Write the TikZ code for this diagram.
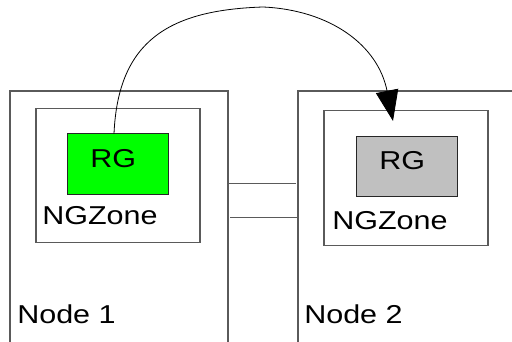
\documentclass[tikz,border=0pt]{standalone}
\usepackage{fontspec}
\setmainfont{Liberation Sans}[FakeStretch=1.18]
\usetikzlibrary{arrows.meta,calc}
\definecolor{rggreen}{RGB}{0,255,0}
\definecolor{rggrey}{RGB}{192,192,192}
\definecolor{boxline}{RGB}{90,90,90}

\begin{document}
\begin{tikzpicture}[x=0.75pt,y=-0.75pt,
        box/.style={rectangle,draw=boxline,line width=0.8pt,inner sep=0pt,outer sep=0pt},
        rgbox/.style={box,draw=black!85,minimum width=75.6pt,minimum height=45.5pt},
        zonebox/.style={box,minimum width=123pt,minimum height=101pt},
        lbl/.style={anchor=base west,inner sep=0pt,font=\fontsize{19.4pt}{22pt}\selectfont}]
        \useasboundingbox (0,0) rectangle (512,342);
        \clip (0,0) rectangle (512,342);
        \node[box,minimum width=163.5pt,minimum height=201.75pt] (n1) at (119,225.5) {};
        \node[box,minimum width=174pt,minimum height=201.75pt] (n2) at (414,225.5) {};
        \node[zonebox] (z1) at (118,175.5) {};
        \node[zonebox] (z2) at (406,178) {};
        \node[rgbox,fill=rggreen] (rg1) at (118,164.25) {};
        \node[rgbox,fill=rggrey] (rg2) at (406.75,166.5) {};
        \node[lbl] (rgt1) at (90,167.5) {RG};
        \node[lbl] (rgt2) at (379,170) {RG};
        \node[lbl] (zt1) at (42,225) {NGZone};
        \node[lbl] (zt2) at (332,230) {NGZone};
        \node[lbl] (nt1) at (17,323.5) {Node 1};
        \node[lbl] (nt2) at (304,323.5) {Node 2};
        \draw[boxline,line width=0.8pt] ($(n1.north east)+(0,92.3)$) -- ($(n2.north west)+(-2,92.3)$);
        \draw[boxline,line width=0.8pt] ($(n1.north east)+(2,126.7)$) -- ($(n2.north west)+(0,126.7)$);
        \coordinate (tip) at (393,121);
        \draw[line width=0.6pt,-{Triangle[length=23pt,width=17pt]}] ($(rg1.north)+(-4,0)$)
            .. controls (118,40) and (170,10) .. (263,7)
            .. controls (330,10) and (378,45) .. (tip);
\end{tikzpicture}
\end{document}
